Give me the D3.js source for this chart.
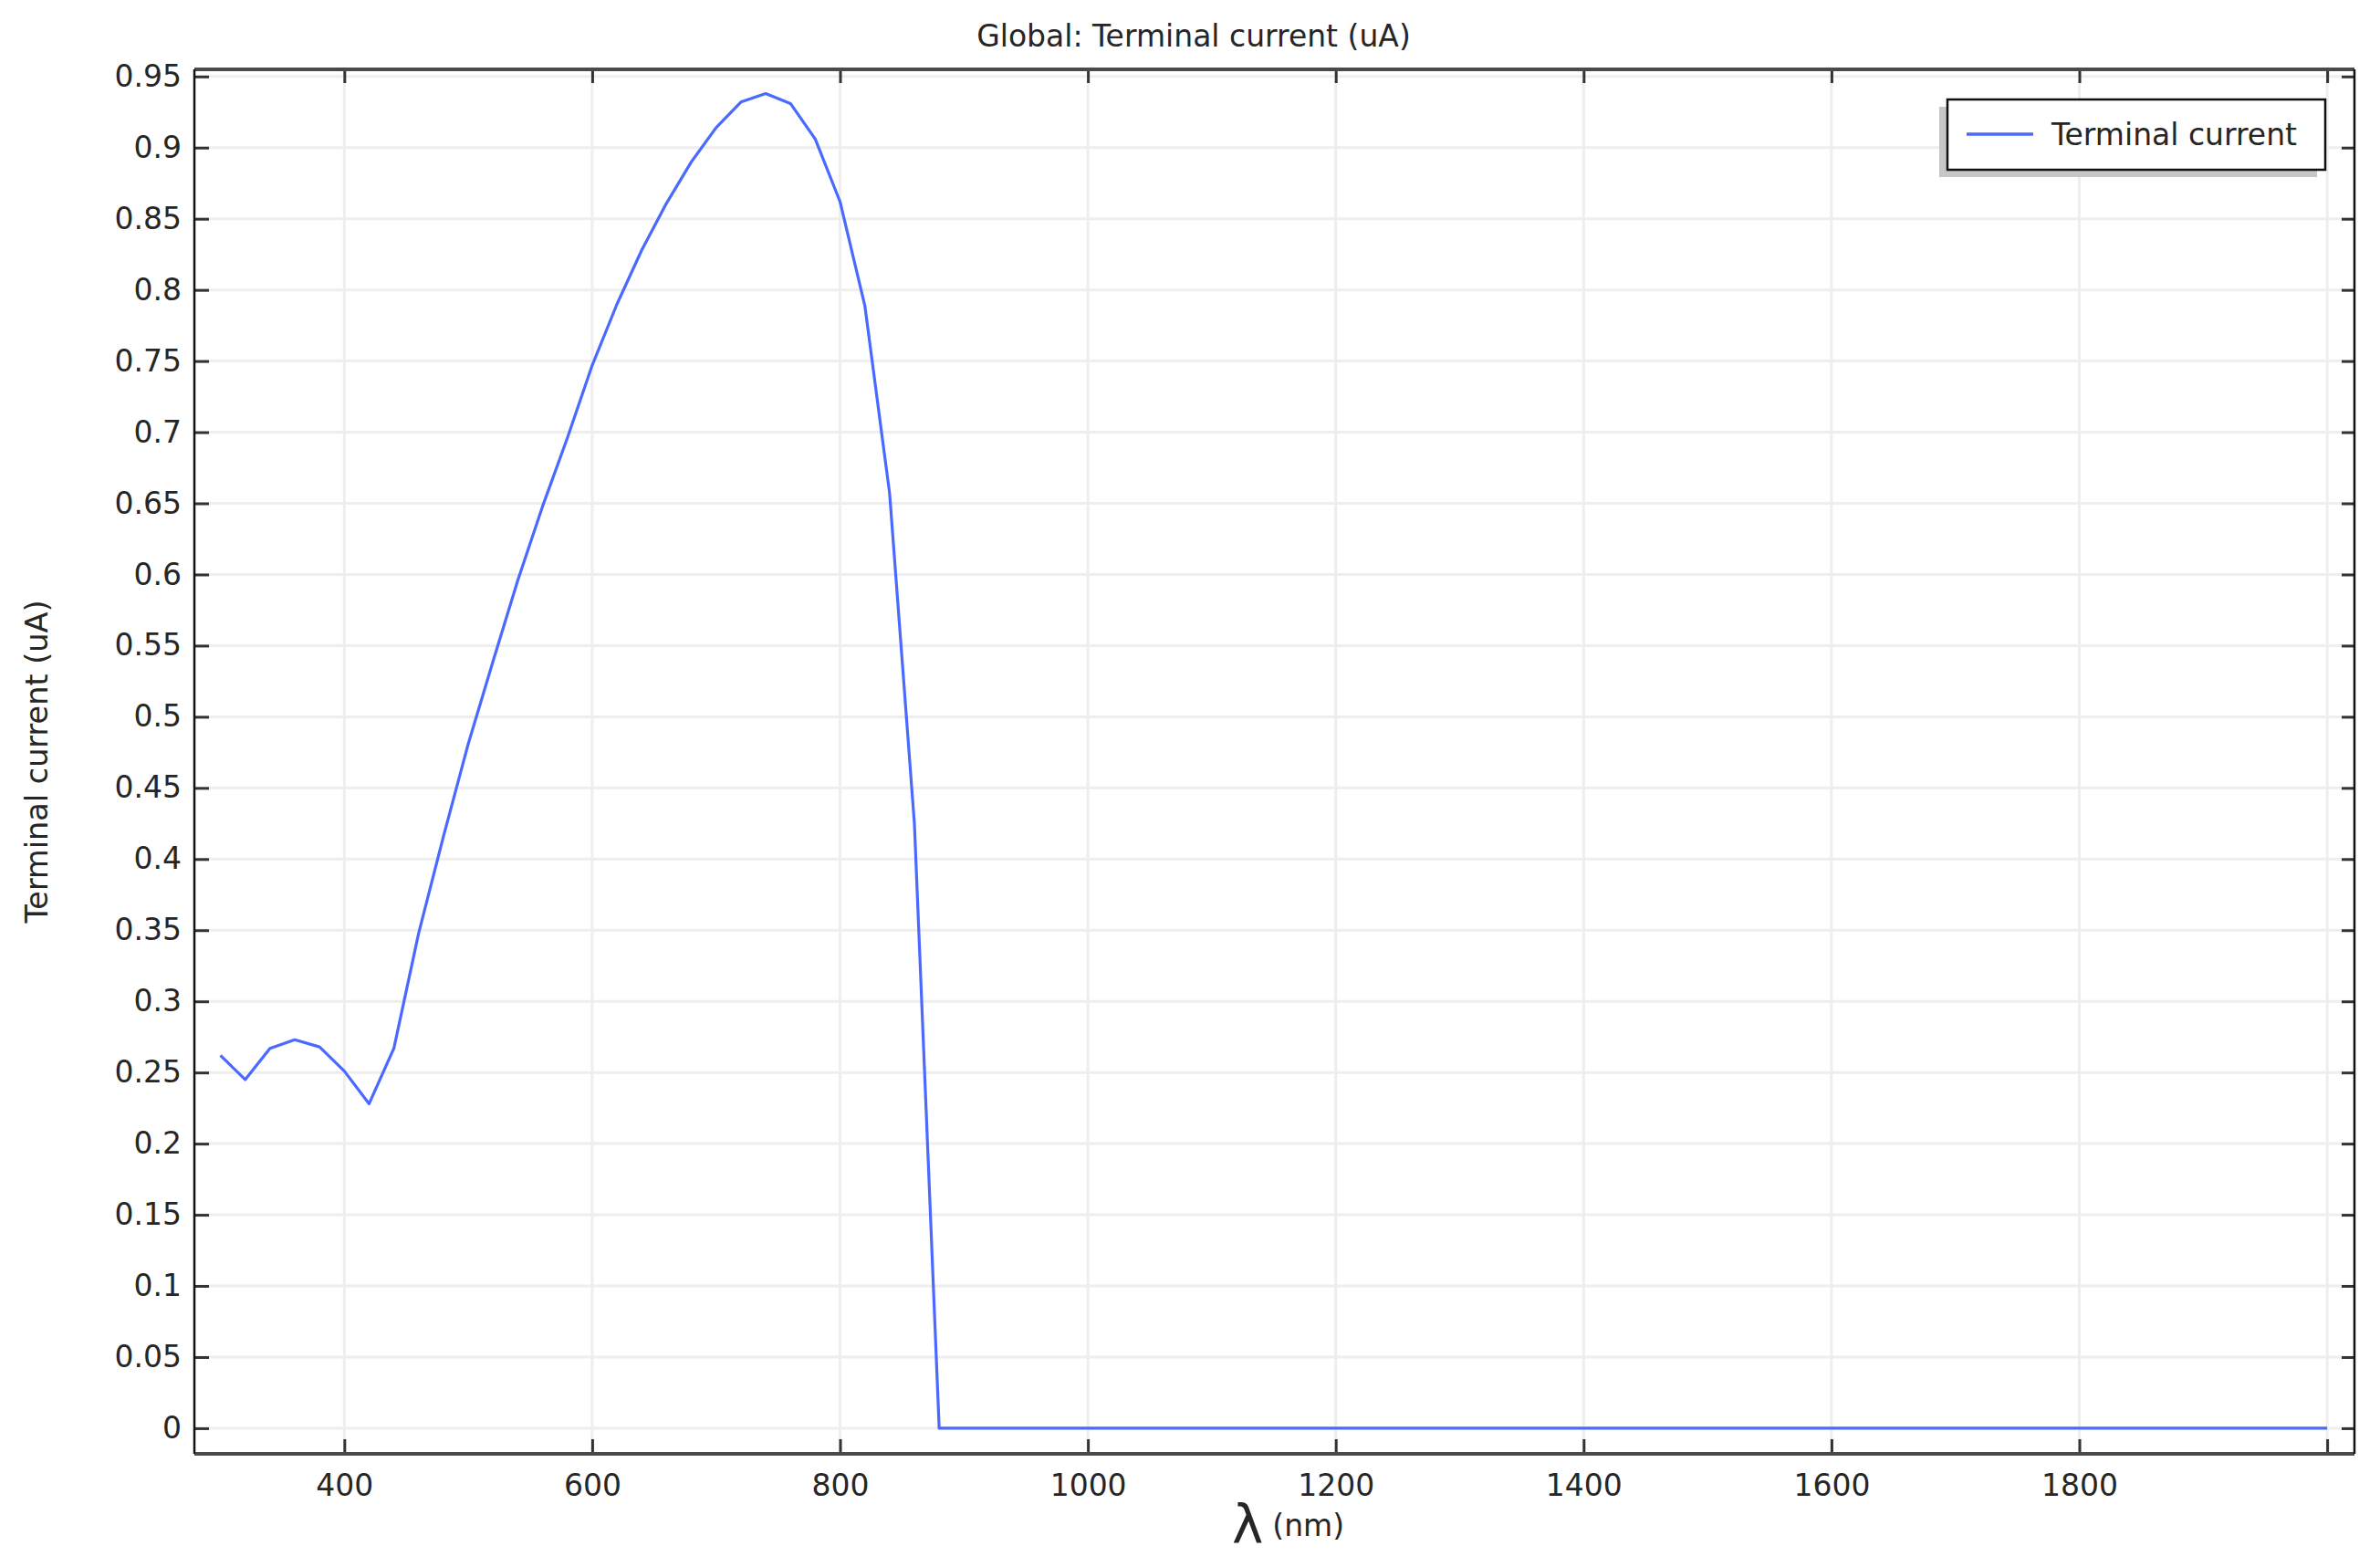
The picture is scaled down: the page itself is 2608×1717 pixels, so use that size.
<!DOCTYPE html>
<html>
<head>
<meta charset="utf-8">
<script src="https://cdn.jsdelivr.net/npm/d3@7"></script>
<style>
  body { margin: 0; background: #fff; }
  text { font-family: "DejaVu Sans", sans-serif; fill: #262626; }
</style>
</head>
<body>
<div id="chart"></div>
<script>
// wavelength samples (nm) and terminal current (uA)
var wavelength = [
  300, 320, 340, 360, 380, 400, 420, 440, 460, 480,
  500, 520, 540, 560, 580, 600, 620, 640, 660, 680,
  700, 720, 740, 760, 780, 800, 820, 840, 860, 880,
  900, 920, 940, 960, 980, 1000, 1020, 1040, 1060, 1080,
  1100, 1120, 1140, 1160, 1180, 1200, 1220, 1240, 1260, 1280,
  1300, 1320, 1340, 1360, 1380, 1400, 1420, 1440, 1460, 1480,
  1500, 1520, 1540, 1560, 1580, 1600, 1620, 1640, 1660, 1680,
  1700, 1720, 1740, 1760, 1780, 1800, 1820, 1840, 1860, 1880,
  1900, 1920, 1940, 1960, 1980, 2000
];
var current = [
  0.262, 0.245, 0.267, 0.273, 0.268, 0.251, 0.228, 0.267, 0.348, 0.416,
  0.481, 0.539, 0.596, 0.648, 0.696, 0.747, 0.790, 0.828, 0.861, 0.890,
  0.914, 0.932, 0.938, 0.931, 0.906, 0.862, 0.789, 0.657, 0.425, 0,
  0, 0, 0, 0, 0, 0, 0, 0, 0, 0,
  0, 0, 0, 0, 0, 0, 0, 0, 0, 0,
  0, 0, 0, 0, 0, 0, 0, 0, 0, 0,
  0, 0, 0, 0, 0, 0, 0, 0, 0, 0,
  0, 0, 0, 0, 0, 0, 0, 0, 0, 0,
  0, 0, 0, 0, 0, 0
];

var xTicks = [400, 600, 800, 1000, 1200, 1400, 1600, 1800, 2000];
var xTickLabels = ["400", "600", "800", "1000", "1200", "1400", "1600", "1800", ""];
var yTicks = [0, 0.05, 0.1, 0.15, 0.2, 0.25, 0.3, 0.35, 0.4, 0.45,
              0.5, 0.55, 0.6, 0.65, 0.7, 0.75, 0.8, 0.85, 0.9, 0.95];
var yTickLabels = ["0", "0.05", "0.1", "0.15", "0.2", "0.25", "0.3", "0.35", "0.4", "0.45",
                   "0.5", "0.55", "0.6", "0.65", "0.7", "0.75", "0.8", "0.85", "0.9", "0.95"];

var seriesName = "Terminal current";
var titleText = "Global: Terminal current (uA)";
var yLabel = "Terminal current (uA)";

// dimensions
var W = 2608, H = 1717;
var margin = {top: 76, right: 28, bottom: 124, left: 213},
    width = W - margin.left - margin.right,
    height = H - margin.top - margin.bottom;
var fs = "33px";

var root = d3.select("#chart")
  .append("svg")
    .attr("width", W)
    .attr("height", H);

var svg = root.append("g")
    .attr("transform", "translate(" + margin.left + "," + margin.top + ")");

// scales (with a small padding around the data range, like the original)
var x = d3.scaleLinear()
  .domain([279, 2022])
  .range([0, width]);

var y = d3.scaleLinear()
  .domain([-0.018, 0.955])
  .range([height, 0]);

// grid
svg.append("g")
  .selectAll("line")
  .data(xTicks)
  .enter()
  .append("line")
    .attr("x1", function(d) { return x(d) })
    .attr("x2", function(d) { return x(d) })
    .attr("y1", 0)
    .attr("y2", height)
    .attr("stroke", "#eeeeee")
    .attr("stroke-width", 3);

svg.append("g")
  .selectAll("line")
  .data(yTicks)
  .enter()
  .append("line")
    .attr("x1", 0)
    .attr("x2", width)
    .attr("y1", function(d) { return y(d) })
    .attr("y2", function(d) { return y(d) })
    .attr("stroke", "#eeeeee")
    .attr("stroke-width", 3);

// the curve
var data = wavelength.map(function(w, i) { return {w: w, v: current[i]} });

svg.append("path")
  .datum(data)
  .attr("fill", "none")
  .attr("stroke", "#4a69ff")
  .attr("stroke-width", 3.2)
  .attr("stroke-linejoin", "round")
  .attr("d", d3.line()
    .x(function(d) { return x(d.w) })
    .y(function(d) { return y(d.v) })
  );

// axes, ticks pointing inward on all four sides
function styleAxis(g) {
  g.select(".domain").remove();
  g.selectAll(".tick line")
    .attr("stroke", "#333")
    .attr("stroke-width", 3);
  g.selectAll(".tick text")
    .style("font-family", "DejaVu Sans, sans-serif")
    .style("font-size", fs)
    .attr("fill", "#262626");
}

svg.append("g")
  .attr("transform", "translate(0," + height + ")")
  .call(d3.axisBottom(x)
    .tickValues(xTicks)
    .tickSize(-16)
    .tickPadding(23)
    .tickFormat(function(d, i) { return xTickLabels[i] }))
  .call(styleAxis);

svg.append("g")
  .call(d3.axisTop(x)
    .tickValues(xTicks)
    .tickSize(-15)
    .tickFormat(""))
  .call(styleAxis);

svg.append("g")
  .call(d3.axisLeft(y)
    .tickValues(yTicks)
    .tickSize(-16)
    .tickPadding(14)
    .tickFormat(function(d, i) { return yTickLabels[i] }))
  .call(styleAxis);

svg.append("g")
  .attr("transform", "translate(" + width + ",0)")
  .call(d3.axisRight(y)
    .tickValues(yTicks)
    .tickSize(-14)
    .tickFormat(""))
  .call(styleAxis);

// frame
svg.append("line")
  .attr("x1", 0).attr("x2", width).attr("y1", 0).attr("y2", 0)
  .attr("stroke", "#4a4a4a").attr("stroke-width", 4);
svg.append("line")
  .attr("x1", 0).attr("x2", width).attr("y1", height).attr("y2", height)
  .attr("stroke", "#4a4a4a").attr("stroke-width", 4);
svg.append("line")
  .attr("x1", 0).attr("x2", 0).attr("y1", 0).attr("y2", height)
  .attr("stroke", "#111").attr("stroke-width", 2.5);
svg.append("line")
  .attr("x1", width).attr("x2", width).attr("y1", 0).attr("y2", height)
  .attr("stroke", "#111").attr("stroke-width", 2.5);

// legend with drop shadow
var legW = 414, legH = 77;
var legend = svg.append("g")
  .attr("transform", "translate(" + (width - 32 - legW) + ",33)");

legend.append("rect")
  .attr("x", -9).attr("y", 8)
  .attr("width", legW).attr("height", legH)
  .attr("fill", "#c6c6c6");
legend.append("rect")
  .attr("width", legW).attr("height", legH)
  .attr("fill", "#fff")
  .attr("stroke", "#111")
  .attr("stroke-width", 2.5);
legend.append("line")
  .attr("x1", 21).attr("x2", 94)
  .attr("y1", 38).attr("y2", 38)
  .attr("stroke", "#4a69ff")
  .attr("stroke-width", 3.5);
legend.append("text")
  .attr("x", 114)
  .attr("y", 38)
  .attr("dy", "0.36em")
  .style("font-size", fs)
  .text(seriesName);

// title
root.append("text")
  .attr("x", W / 2 + 4)
  .attr("y", 51)
  .attr("text-anchor", "middle")
  .style("font-size", fs)
  .text(titleText);

// y label
root.append("text")
  .attr("transform", "translate(52," + (margin.top + height / 2) + ") rotate(-90)")
  .attr("text-anchor", "middle")
  .style("font-size", "33.5px")
  .text(yLabel);

// x label: big lambda followed by the unit
var xl = root.append("text")
  .attr("x", 1350)
  .attr("y", 1691);
xl.append("tspan")
  .style("font-size", "58px")
  .text("λ");
xl.append("tspan")
  .attr("dx", 10)
  .attr("dy", -8)
  .style("font-size", "33px")
  .text("(nm)");
</script>
</body>
</html>
